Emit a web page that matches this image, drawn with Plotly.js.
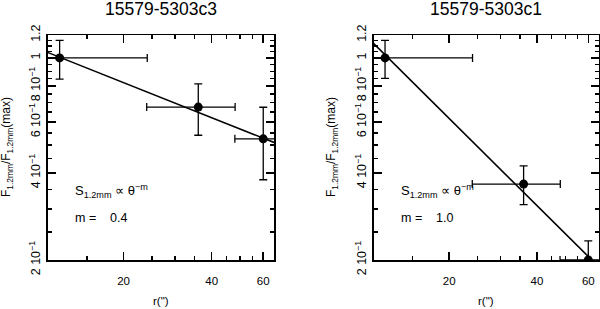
<!DOCTYPE html>
<html>
<head>
<meta charset="utf-8">
<script src="https://cdn.plot.ly/plotly-3.0.1.min.js"></script>
<style>html,body{margin:0;padding:0;background:#fff;}#chart{width:600px;height:309px;}</style>
</head>
<body>
<div id="chart"></div>
<script>
// ---- data ----
const titles = ["15579-5303c3", "15579-5303c1"];
const mLabels = ["m =\u00a0\u00a0\u00a0 0.4", "m =\u00a0\u00a0\u00a0 1.0"];

const leftX = [12.1, 36.0, 60.0];
const leftY = [1.0, 0.676, 0.525];
const leftYErrPlus = [0.15, 0.137, 0.15];
const leftYErrMinus = [0.155, 0.136, 0.146];
const leftXErrPlus = [12.0, 12.1, 12.0];
const leftXErrMinus = [2.0, 12.0, 12.0];
const fitLeftX = [11.0, 65.3];
const fitLeftY = [1.045, 0.51];

const rightX = [12.05, 36.0, 60.0];
const rightY = [1.0, 0.366, 0.2];
const rightYErrPlus = [0.15, 0.057, 0.033];
const rightYErrMinus = [0.15, 0.055, 0.03];
const rightXErrPlus = [12.0, 12.1, 12.0];
const rightXErrMinus = [2.0, 12.0, 12.0];
const fitRightX = [11.0, 65.3];
const fitRightY = [1.123, 0.189];

const xMajor = [20, 40, 60];
const xMajorText = ["20", "40", "60"];
const xMinor = [15, 25, 30, 35, 45, 50, 55];
const yMajor = [0.2, 0.4, 0.6, 0.8, 1.0, 1.2];
const yMajorText = ["2 10<sup>\u22121</sup>", "4 10<sup>\u22121</sup>", "6 10<sup>\u22121</sup>", "8 10<sup>\u22121</sup>", "1", "1.2"];
const yMinor = [0.25, 0.3, 0.35, 0.45, 0.5, 0.55, 0.65, 0.7, 0.75, 0.85, 0.9, 0.95, 1.05, 1.1, 1.15];

// ---- layout helpers ----
const W = 600, H = 309;
const FONT = "Liberation Sans, Arial, sans-serif";
const px = x => x / W;
const py = y => 1 - y / H;

function pointsTrace(x, y, ep, em, xp, xm, xa, ya) {
  return {
    x: x, y: y, xaxis: xa, yaxis: ya, type: "scatter", mode: "markers",
    marker: {color: "#000", size: 9},
    error_y: {type: "data", symmetric: false, array: ep, arrayminus: em, color: "#000", thickness: 1.3, width: 4},
    error_x: {type: "data", symmetric: false, array: xp, arrayminus: xm, color: "#000", thickness: 1.3, width: 4},
    showlegend: false, hoverinfo: "skip"
  };
}
function fitTrace(x, y, xa, ya) {
  return {x: x, y: y, xaxis: xa, yaxis: ya, type: "scatter", mode: "lines",
    line: {color: "#000", width: 1.6}, showlegend: false, hoverinfo: "skip"};
}

const data = [
  fitTrace(fitLeftX, fitLeftY, "x", "y"),
  pointsTrace(leftX, leftY, leftYErrPlus, leftYErrMinus, leftXErrPlus, leftXErrMinus, "x", "y"),
  fitTrace(fitRightX, fitRightY, "x2", "y2"),
  pointsTrace(rightX, rightY, rightYErrPlus, rightYErrMinus, rightXErrPlus, rightXErrMinus, "x2", "y2")
];

function xAxis(domain, anchor) {
  return {
    domain: domain, anchor: anchor, type: "log",
    range: [Math.log10(fitLeftX[0]), Math.log10(fitLeftX[1])],
    showline: true, linecolor: "#000", linewidth: 1.5, mirror: "allticks",
    ticks: "inside", ticklen: 8, tickwidth: 1.5, tickcolor: "#000",
    tickmode: "array", tickvals: xMajor, ticktext: xMajorText,
    minor: {tickmode: "array", tickvals: xMinor, ticks: "inside", ticklen: 4, tickwidth: 1.2, tickcolor: "#000", showgrid: false},
    showgrid: false, zeroline: false, automargin: false,
    tickfont: {family: FONT, size: 11.5, color: "#000"}, ticklabelstandoff: 10
  };
}
function yAxis(domain, anchor) {
  return {
    domain: domain, anchor: anchor, type: "log",
    range: [Math.log10(0.2), Math.log10(1.2)],
    showline: true, linecolor: "#000", linewidth: 1.5, mirror: "allticks",
    ticks: "inside", ticklen: 8, tickwidth: 1.5, tickcolor: "#000",
    tickmode: "array", tickvals: yMajor, ticktext: yMajorText, tickangle: -90,
    minor: {tickmode: "array", tickvals: yMinor, ticks: "inside", ticklen: 4, tickwidth: 1.2, tickcolor: "#000", showgrid: false},
    showgrid: false, zeroline: false, automargin: false,
    tickfont: {family: FONT, size: 12.5, color: "#000"}, ticklabelstandoff: 1
  };
}

const yDom = [py(260), py(35)];
const layout = {
  width: W, height: H,
  margin: {l: 0, r: 0, t: 0, b: 0},
  paper_bgcolor: "#fff", plot_bgcolor: "#fff",
  showlegend: false,
  xaxis: xAxis([px(47.5), px(274)], "y"),
  yaxis: yAxis(yDom, "x"),
  xaxis2: xAxis([px(373.5), px(599)], "y2"),
  yaxis2: yAxis(yDom, "x2"),
  annotations: []
};

const panels = [
  {cx: 160.7, ylab: 7, txt: 73},
  {cx: 486.2, ylab: 332, txt: 398.5}
];
panels.forEach((p, i) => {
  layout.annotations.push(
    {text: titles[i], x: px(p.cx), y: py(9), xref: "paper", yref: "paper", showarrow: false,
     xanchor: "center", yanchor: "middle", font: {family: FONT, size: 17.5, color: "#000"}},
    {text: "r(\")", x: px(p.cx), y: py(301), xref: "paper", yref: "paper", showarrow: false,
     xanchor: "center", yanchor: "middle", font: {family: FONT, size: 11.5, color: "#000"}},
    {text: "F<sub>1.2mm</sub>/F<sub>1.2mm</sub>(max)", x: px(p.ylab), y: py(147), xref: "paper", yref: "paper",
     showarrow: false, textangle: -90, xanchor: "center", yanchor: "middle",
     font: {family: FONT, size: 12, color: "#000"}},
    {text: "S<sub>1.2mm</sub> \u221d \u03b8<sup>\u2212m</sup>", x: px(p.txt), y: py(191), xref: "paper", yref: "paper",
     showarrow: false, xanchor: "left", yanchor: "middle", font: {family: FONT, size: 13, color: "#000"}},
    {text: mLabels[i], x: px(p.txt), y: py(218), xref: "paper", yref: "paper",
     showarrow: false, xanchor: "left", yanchor: "middle", font: {family: FONT, size: 12.5, color: "#000"}}
  );
});

Plotly.newPlot("chart", data, layout, {staticPlot: true, displayModeBar: false});
</script>
</body>
</html>
